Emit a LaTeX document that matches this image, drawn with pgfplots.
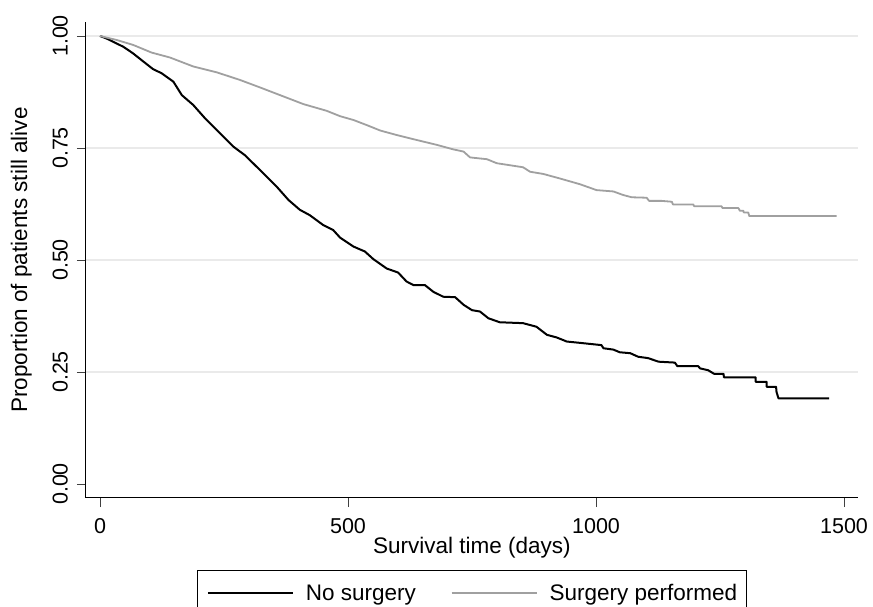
\documentclass[border=0pt]{standalone}
\usepackage{pgfplots}
\pgfplotsset{compat=1.18}
\usepackage{fontspec}
\setmainfont{Liberation Sans}
\definecolor{curvegray}{RGB}{160,160,160}
\definecolor{gridgray}{RGB}{234,234,234}
\newcommand{\fs}{\fontsize{21.5}{26}\selectfont}
\newcommand{\fl}{\fontsize{22.5}{27}\selectfont}
\begin{document}
\begin{tikzpicture}
\begin{axis}[
  at={(0pt,0pt)}, anchor=south west,
  scale only axis, width=772pt, height=476pt,
  xmin=-28.2, xmax=1528.2, ymin=-0.03125, ymax=1.03125,
  axis x line*=bottom, axis y line*=left,
  axis line style={-, line width=1pt, black},
  xtick={0,500,1000,1500}, xticklabels={0,500,1000,1500},
  ytick={0,0.25,0.5,0.75,1}, yticklabels={0.00,0.25,0.50,0.75,1.00},
  extra y ticks={0.25,0.5,0.75,1},
  extra y tick labels={},
  extra y tick style={grid=major, major tick length=0pt},
  grid style={gridgray, line width=1.3pt},
  tick align=outside, major tick length=9pt,
  tick style={black!75, line width=0.9pt},
  tick label style={font=\fs, inner sep=0pt},
  xticklabel shift=11pt,
  yticklabel shift=9pt,
  xticklabel style={anchor=north},
  yticklabel style={rotate=90, anchor=south},
  xlabel={Survival time (days)},
  ylabel={Proportion of patients still alive},
  label style={font=\fl, inner sep=0pt},
  xlabel style={at={(axis description cs:0.5,-0.0819)}, anchor=north},
  ylabel style={at={(axis description cs:-0.0700,0.5)}, anchor=south, rotate=0},
  legend columns=2,
  legend image code/.code={\draw[#1] (0pt,0pt) -- (85pt,0pt);},
  legend style={at={(axis description cs:0.5,-0.1513)}, anchor=north,
    draw=black, line width=0.8pt, font=\fl, inner xsep=9pt, inner ysep=14pt,
    nodes={inner sep=0pt},
    /tikz/every odd column/.append style={column sep=12pt},
    /tikz/every even column/.append style={column sep=35pt}},
]
\addplot[black, line width=2pt, line join=round] coordinates {
(0,1.000) (12,0.995) (23,0.989) (47,0.976) (67,0.961) (84,0.946) (107,0.926)
(124,0.917) (148,0.898) (165,0.868) (188,0.846) (212,0.816) (239,0.786)
(269,0.753) (292,0.734) (316,0.708) (336,0.686) (356,0.664) (380,0.634)
(403,0.612) (423,0.600) (450,0.578) (470,0.567) (484,0.550) (511,0.530)
(534,0.519) (551,0.502) (578,0.481) (601,0.472) (618,0.452) (632,0.444)
(655,0.444) (672,0.429) (692,0.418) (716,0.417) (733,0.400) (750,0.388)
(766,0.385) (783,0.370) (806,0.361) (853,0.359) (880,0.351) (901,0.333)
(921,0.327) (941,0.318) (968,0.315) (1011,0.310) (1015,0.303) (1035,0.300)
(1048,0.294) (1069,0.292) (1085,0.284) (1105,0.281) (1126,0.273) (1159,0.271)
(1164,0.263) (1206,0.263) (1210,0.258) (1226,0.254) (1238,0.246) (1257,0.246)
(1258,0.238) (1322,0.238) (1322,0.228) (1344,0.228) (1344,0.217) (1363,0.217)
(1364,0.205) (1368,0.191) (1470,0.191)
};
\addlegendentry{No surgery}
\addplot[curvegray, line width=1.8pt, line join=round] coordinates {
(0,1.000) (34,0.991) (67,0.980) (104,0.963) (141,0.952) (188,0.932) (235,0.919)
(282,0.902) (323,0.885) (363,0.868) (410,0.848) (457,0.833) (484,0.821)
(511,0.8125) (538,0.801) (565,0.789) (598,0.779) (638,0.768) (679,0.757)
(712,0.747) (733,0.742) (746,0.729) (780,0.725) (800,0.716) (853,0.707)
(867,0.697) (894,0.692) (927,0.682) (968,0.669) (1001,0.656) (1035,0.653)
(1055,0.645) (1072,0.640) (1102,0.639) (1107,0.632) (1132,0.632) (1153,0.630)
(1155,0.624) (1196,0.624) (1198,0.620) (1253,0.620) (1255,0.616) (1287,0.616)
(1290,0.610) (1297,0.610) (1298,0.606) (1307,0.606) (1309,0.598) (1485,0.598)
};
\addlegendentry{Surgery performed\hspace{6pt}}
\end{axis}
\pgfresetboundingbox
\path[use as bounding box] (-86pt,-109pt) rectangle (787pt,498pt);
\end{tikzpicture}
\end{document}
